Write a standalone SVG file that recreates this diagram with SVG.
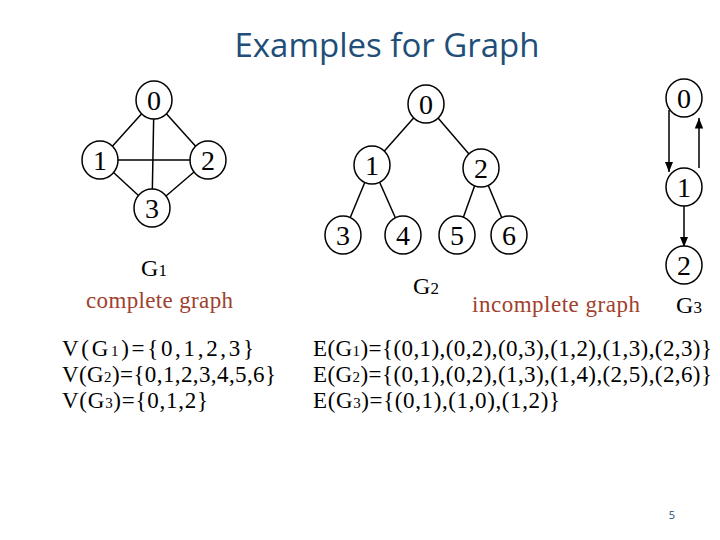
<svg xmlns="http://www.w3.org/2000/svg" width="720" height="540" viewBox="0 0 720 540">
<style>
.n ellipse{fill:#fff;stroke:#000;stroke-width:1.5}
.n text{font-family:"Liberation Serif",serif;font-size:28px;text-anchor:middle;fill:#000}
.e line{stroke:#000;stroke-width:1.5}
.lbl{font-family:"Liberation Serif",serif;font-size:24px;fill:#000}
.red{font-family:"Liberation Serif",serif;font-size:23px;fill:#A0412D}
.set{font-family:"Liberation Serif",serif;font-size:23px;fill:#000}
</style>
<defs><marker id="a" viewBox="0 0 10 10" refX="10" refY="5" markerWidth="7" markerHeight="7" orient="auto"><path d="M0,1 L10,5 L0,9 z" fill="#000"/></marker></defs>
<rect width="720" height="540" fill="#fff"/>
<text x="387" y="57" font-family="Open Sans,sans-serif" font-size="33" fill="#1F4E79" text-anchor="middle">Examples for Graph</text>
<g class="e">
<line x1="154" y1="100" x2="100" y2="160"/><line x1="154" y1="100" x2="208" y2="160"/><line x1="154" y1="100" x2="152" y2="208"/>
<line x1="100" y1="160" x2="208" y2="160"/><line x1="100" y1="160" x2="152" y2="208"/><line x1="208" y1="160" x2="152" y2="208"/>
<line x1="426" y1="104" x2="372" y2="165"/><line x1="426" y1="104" x2="481" y2="168"/>
<line x1="372" y1="165" x2="343" y2="235"/><line x1="372" y1="165" x2="403" y2="235"/>
<line x1="481" y1="168" x2="457" y2="235"/><line x1="481" y1="168" x2="509" y2="235"/>
<line x1="669" y1="110" x2="669" y2="172" marker-end="url(#a)"/>
<line x1="699" y1="168" x2="699" y2="118" marker-end="url(#a)"/>
<line x1="684" y1="205" x2="684" y2="247" marker-end="url(#a)"/>
</g>
<g id="g1n0" class="n"><ellipse cx="154" cy="100" rx="18" ry="19"/><text x="154" y="110">0</text></g>
<g id="g1n1" class="n"><ellipse cx="100" cy="160" rx="18" ry="19"/><text x="100" y="170">1</text></g>
<g id="g1n2" class="n"><ellipse cx="208" cy="160" rx="18" ry="19"/><text x="208" y="170">2</text></g>
<g id="g1n3" class="n"><ellipse cx="152" cy="208" rx="18" ry="19"/><text x="152" y="218">3</text></g>
<g id="g2n0" class="n"><ellipse cx="426" cy="104" rx="18" ry="19"/><text x="426" y="114">0</text></g>
<g id="g2n1" class="n"><ellipse cx="372" cy="165" rx="18" ry="19"/><text x="372" y="175">1</text></g>
<g id="g2n2" class="n"><ellipse cx="481" cy="168" rx="18" ry="19"/><text x="481" y="178">2</text></g>
<g id="g2n3" class="n"><ellipse cx="343" cy="235" rx="18" ry="19"/><text x="343" y="245">3</text></g>
<g id="g2n4" class="n"><ellipse cx="403" cy="235" rx="18" ry="19"/><text x="403" y="245">4</text></g>
<g id="g2n5" class="n"><ellipse cx="457" cy="235" rx="18" ry="19"/><text x="457" y="245">5</text></g>
<g id="g2n6" class="n"><ellipse cx="509" cy="235" rx="18" ry="19"/><text x="509" y="245">6</text></g>
<g id="g3n0" class="n"><ellipse cx="684" cy="98" rx="18" ry="19"/><text x="684" y="108">0</text></g>
<g id="g3n1" class="n"><ellipse cx="684" cy="187" rx="18" ry="19"/><text x="684" y="197">1</text></g>
<g id="g3n2" class="n"><ellipse cx="684" cy="265" rx="18" ry="19"/><text x="684" y="275">2</text></g>
<text class="lbl" x="154" y="276" text-anchor="middle">G<tspan font-size="17">1</tspan></text>
<text class="lbl" x="426" y="294" text-anchor="middle">G<tspan font-size="17">2</tspan></text>
<text class="lbl" x="689" y="313" text-anchor="middle">G<tspan font-size="17">3</tspan></text>
<text class="red" x="86" y="308" textLength="147">complete graph</text>
<text class="red" x="472" y="312" textLength="168">incomplete graph</text>
<text class="set" x="62" y="356" textLength="192">V(G<tspan font-size="15">1</tspan>)={0,1,2,3}</text>
<text class="set" x="62" y="382" textLength="214">V(G<tspan font-size="15">2</tspan>)={0,1,2,3,4,5,6}</text>
<text class="set" x="62" y="408" textLength="146">V(G<tspan font-size="15">3</tspan>)={0,1,2}</text>
<text class="set" x="313" y="356" textLength="399">E(G<tspan font-size="15">1</tspan>)={(0,1),(0,2),(0,3),(1,2),(1,3),(2,3)}</text>
<text class="set" x="313" y="382" textLength="399">E(G<tspan font-size="15">2</tspan>)={(0,1),(0,2),(1,3),(1,4),(2,5),(2,6)}</text>
<text class="set" x="313" y="408" textLength="247">E(G<tspan font-size="15">3</tspan>)={(0,1),(1,0),(1,2)}</text>
<text x="672" y="519" font-family="Open Sans,sans-serif" font-size="11" fill="#1F4E79" text-anchor="middle">5</text>
</svg>
